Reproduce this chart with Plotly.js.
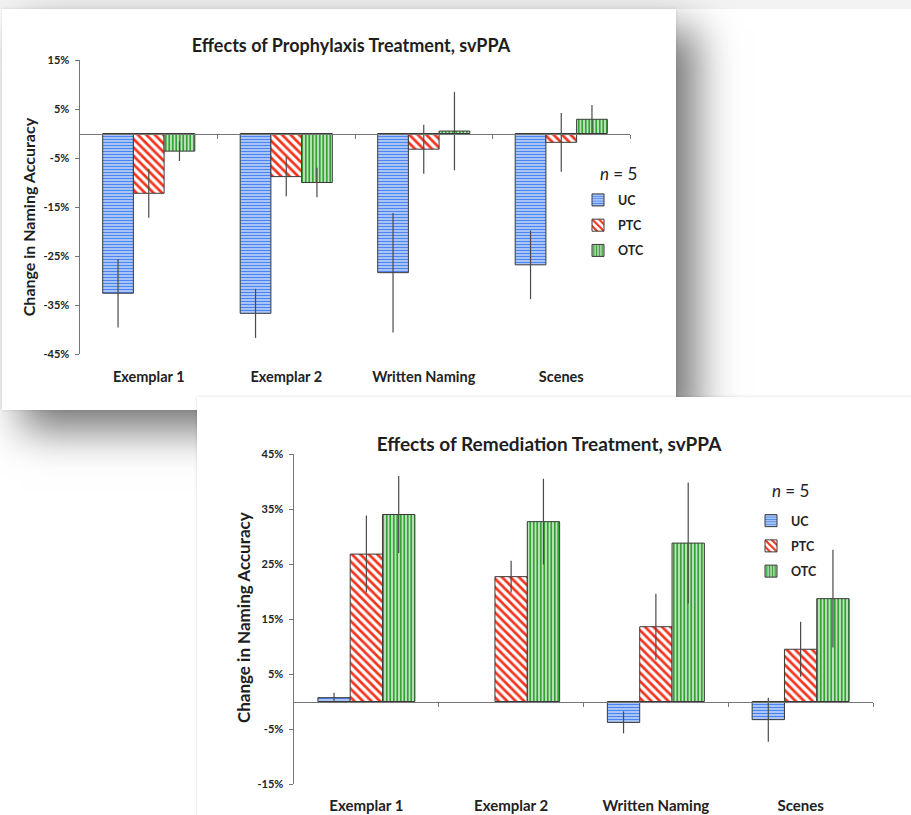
<!DOCTYPE html>
<html><head><meta charset="utf-8">
<script src="https://cdn.plot.ly/plotly-3.0.1.min.js"></script>
<style>
html,body{margin:0;padding:0;background:#fff;width:911px;height:815px;overflow:hidden;position:relative;}
#topstrip{position:absolute;left:0;top:0;width:911px;height:9px;background:#f3f3f3;}
#card1{position:absolute;left:2px;top:9px;width:674px;height:401px;background:#fff;box-shadow:20px 20px 40px rgba(0,0,0,0.55),0 0 3px rgba(0,0,0,0.12);z-index:1;}
#card2{position:absolute;left:197px;top:397px;width:740px;height:440px;background:#fff;box-shadow:0 0 3px rgba(0,0,0,0.15);z-index:2;}
#chart1{width:674px;height:401px;}
#chart2{width:714px;height:418px;}
</style></head>
<body>
<div id="topstrip"></div>
<div id="card1"><div id="chart1"></div></div>
<div id="card2"><div id="chart2"></div></div>
<script>
// ---- data ----
const categories = ['Exemplar 1', 'Exemplar 2', 'Written Naming', 'Scenes'];
const seriesNames = ['UC', 'PTC', 'OTC'];

const prophUC = [-32.6, -36.7, -28.4, -26.8];
const prophUCErr = [7.0, 5.0, 12.2, 7.0];
const prophPTC = [-12.2, -8.8, -3.2, -1.8];
const prophPTCErr = [5.0, 4.0, 5.0, 6.0];
const prophOTC = [-3.6, -10.0, 0.5, 2.9];
const prophOTCErr = [2.0, 3.0, 8.0, 2.9];

const remUC = [0.7, 0, -3.8, -3.3];
const remUCErr = [0.9, 0, 2.0, 4.0];
const remPTC = [26.8, 22.7, 13.6, 9.5];
const remPTCErr = [7.0, 2.9, 6.0, 5.0];
const remOTC = [34.0, 32.7, 28.8, 18.7];
const remOTCErr = [7.0, 7.8, 11.0, 8.9];

const prophTicks = [-45, -35, -25, -15, -5, 5, 15];
const remTicks = [-15, -5, 5, 15, 25, 35, 45];

const prophTitle = 'Effects of Prophylaxis Treatment, svPPA';
const remTitle = 'Effects of Remediation Treatment, svPPA';
const yTitle = 'Change in Naming Accuracy';
const nLabel = '<i>n</i> = 5';

// ---- styles ----
const FONT = 'Lato, "Open Sans", sans-serif';
const AXIS = '#767676';
const styles = {
  UC:  {fg: '#4a84ee', shape: '-',  size: 3,   solidity: 0.65},
  PTC: {fg: '#f5331f', shape: '\\', size: 6,   solidity: 0.45},
  OTC: {fg: '#33a333', shape: '|',  size: 3.5, solidity: 0.65}
};

function barTrace(name, vals, errs) {
  const s = styles[name];
  return {
    type: 'bar', name: name, legendgroup: name, x: categories, y: vals,
    marker: {color: '#ffffff', line: {color: '#3a3a3a', width: vals.map(v => v === 0 ? 0 : 1)},
      pattern: {shape: s.shape, fgcolor: s.fg, bgcolor: '#ffffff', size: s.size, solidity: s.solidity, fillmode: 'replace'}},
    error_y: {type: 'data', array: errs, visible: true, color: '#4a4a4a', thickness: 1.2, width: 0},
    hoverinfo: 'skip'
  };
}

function makeChart(id, o) {
  const traces = [
    barTrace(seriesNames[0], o.uc, o.ucErr),
    barTrace(seriesNames[1], o.ptc, o.ptcErr),
    barTrace(seriesNames[2], o.otc, o.otcErr),
    {type: 'scatter', x: [], y: [], xaxis: 'x2', yaxis: 'y', showlegend: false, hoverinfo: 'skip'}
  ];
  const lo = o.ticks[0], hi = o.ticks[o.ticks.length - 1];
  const plotW = o.W - o.m.l - o.m.r, plotH = o.H - o.m.t - o.m.b;
  const layout = {
    width: o.W, height: o.H, margin: o.m,
    paper_bgcolor: 'rgba(0,0,0,0)', plot_bgcolor: 'rgba(0,0,0,0)',
    font: {family: FONT, color: '#222'},
    title: {text: o.title, font: {size: o.titleSize, family: FONT, weight: 'bold', color: '#1e1e1e'},
      xref: 'container', yref: 'container', x: o.titleX / o.W, xanchor: 'center', y: 1 - o.titleY / o.H, yanchor: 'middle'},
    barmode: 'group', bargap: 0.33, bargroupgap: 0,
    showlegend: true,
    legend: {x: (o.legLeft - o.m.l) / plotW, xanchor: 'left', y: (o.H - o.m.b - o.legTop) / plotH, yanchor: 'top',
      font: {size: 12.5, weight: 'bold', color: '#222'}, traceorder: 'grouped', tracegroupgap: 6, bgcolor: 'rgba(0,0,0,0)'},
    xaxis: {type: 'category', range: [-0.5, 3.5], showline: false, ticks: '', showgrid: false, zeroline: false,
      tickfont: {size: o.xTickSize, weight: 'bold', color: '#222'}, ticklabelstandoff: o.xStandoff},
    xaxis2: {overlaying: 'x', anchor: 'free', position: (0 - lo) / (hi - lo), range: [-0.5, 3.5], type: 'linear',
      tickvals: [0.5, 1.5, 2.5, 3.5], ticks: 'outside', ticklen: 4, tickwidth: 1, tickcolor: AXIS,
      showline: true, linecolor: AXIS, linewidth: 1.5, showticklabels: false, showgrid: false, zeroline: false},
    yaxis: {range: [lo, hi], tickvals: o.ticks, ticktext: o.ticks.map(v => v + '%'),
      ticks: 'outside', ticklen: 4, tickwidth: 1, tickcolor: AXIS, showline: true, linecolor: AXIS, linewidth: 1.5,
      showgrid: false, zeroline: false, tickfont: {size: o.yTickSize, weight: 'bold', color: '#222'}, ticklabelstandoff: 3},
    annotations: [
      {text: nLabel, xref: 'paper', yref: 'paper', x: (o.nLeft - o.m.l) / plotW, y: (o.H - o.m.b - o.nY) / plotH,
        xanchor: 'left', yanchor: 'middle', showarrow: false, font: {size: 17, color: '#222'}},
      {text: yTitle, xref: 'paper', yref: 'paper', x: (o.yTitleX - o.m.l) / plotW, y: (o.H - o.m.b - o.yTitleY) / plotH,
        xanchor: 'center', yanchor: 'middle', textangle: -90, showarrow: false,
        font: {size: o.yTitleSize, weight: 'bold', color: '#1e1e1e'}}
    ]
  };
  Plotly.newPlot(id, traces, layout, {displayModeBar: false, staticPlot: true});
}

makeChart('chart1', {
  W: 674, H: 401, m: {l: 78, r: 46, t: 50.5, b: 56, pad: 0},
  uc: prophUC, ucErr: prophUCErr, ptc: prophPTC, ptcErr: prophPTCErr, otc: prophOTC, otcErr: prophOTCErr,
  ticks: prophTicks, title: prophTitle, titleSize: 18, titleX: 349, titleY: 37,
  xTickSize: 14.5, xStandoff: 12, yTickSize: 11, yTitleSize: 16, yTitleX: 26, yTitleY: 208,
  legLeft: 576, legTop: 176, nLeft: 596, nY: 164
});

makeChart('chart2', {
  W: 714, H: 418, m: {l: 97, r: 38, t: 57, b: 31, pad: 0},
  uc: remUC, ucErr: remUCErr, ptc: remPTC, ptcErr: remPTCErr, otc: remOTC, otcErr: remOTCErr,
  ticks: remTicks, title: remTitle, titleSize: 19, titleX: 352, titleY: 47,
  xTickSize: 15, xStandoff: 11, yTickSize: 11, yTitleSize: 17, yTitleX: 46, yTitleY: 221,
  legLeft: 554, legTop: 109, nLeft: 573, nY: 93
});
</script>
</body></html>
